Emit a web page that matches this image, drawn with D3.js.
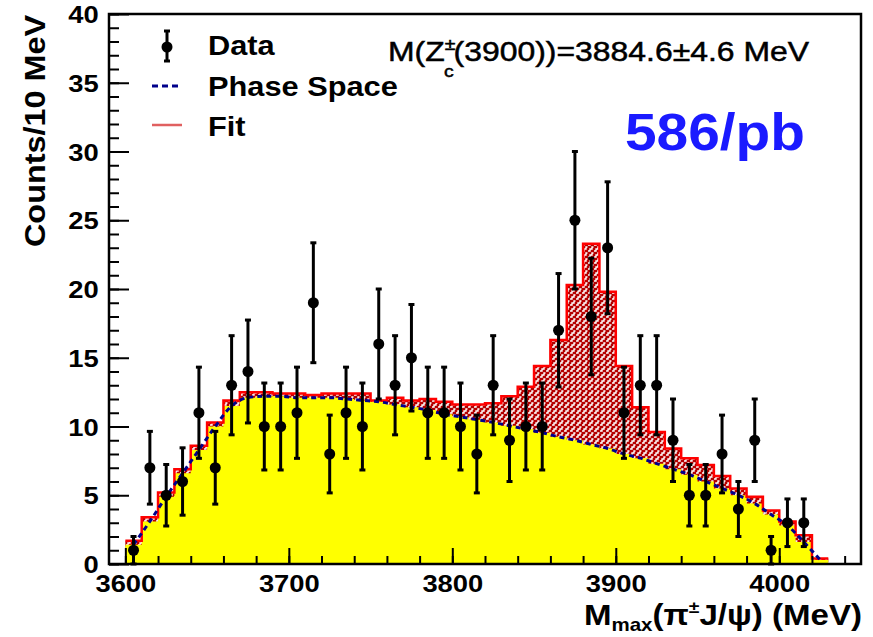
<!DOCTYPE html>
<html>
<head>
<meta charset="utf-8">
<script src="https://cdn.jsdelivr.net/npm/d3@7/dist/d3.min.js"></script>
<style>
  body { margin: 0; background: #fff; }
  text { font-family: "Liberation Sans", Arial, Helvetica, sans-serif; }
</style>
</head>
<body>
<svg id="chart" width="873" height="637"></svg>
<script>
// bin lower edges (10 MeV bins)
const binLow = [3600, 3610, 3620, 3630, 3640, 3650, 3660, 3670, 3680, 3690,
                3700, 3710, 3720, 3730, 3740, 3750, 3760, 3770, 3780, 3790,
                3800, 3810, 3820, 3830, 3840, 3850, 3860, 3870, 3880, 3890,
                3900, 3910, 3920, 3930, 3940, 3950, 3960, 3970, 3980, 3990,
                4000, 4010, 4020];
const binWidth = 10;

// phase space (yellow) per bin
const phaseSpace = [1.4, 3.1, 4.9, 6.6, 8.3, 10.0, 11.5, 12.1, 12.2, 12.2,
                    12.1, 12.1, 12.1, 12.0, 11.9, 11.8, 11.6, 11.4, 11.2, 10.9,
                    10.7, 10.5, 10.3, 10.05, 9.8, 9.55, 9.25, 9.0, 8.7, 8.4,
                    8.0, 7.7, 7.3, 6.9, 6.5, 6.0, 5.5, 5.0, 4.4, 3.6,
                    2.8, 1.6, 0.3];

// total fit (red) per bin
const fitTotal = [1.7, 3.4, 5.2, 6.9, 8.6, 10.3, 11.9, 12.5, 12.5, 12.4,
                  12.4, 12.3, 12.4, 12.4, 12.4, 11.9, 12.1, 11.9, 12.0, 11.8,
                  11.6, 11.6, 11.7, 12.2, 12.9, 14.4, 16.3, 20.3, 23.3, 19.8,
                  14.4, 11.4, 9.6, 8.4, 7.7, 7.2, 6.4, 5.5, 4.9, 3.9,
                  3.1, 2.1, 0.4];

// data points (bin centres, counts)
const dataMass = [3605, 3615, 3625, 3635, 3645, 3655, 3665, 3675, 3685, 3695,
                  3705, 3715, 3725, 3735, 3745, 3755, 3765, 3775, 3785, 3795,
                  3805, 3815, 3825, 3835, 3845, 3855, 3865, 3875, 3885, 3895,
                  3905, 3915, 3925, 3935, 3945, 3955, 3965, 3975, 3985, 3995,
                  4005, 4015];
const dataCounts = [1, 7, 5, 6, 11, 7, 13, 14, 10, 10,
                    11, 19, 8, 11, 10, 16, 13, 15, 11, 11,
                    10, 8, 13, 9, 10, 10, 17, 25, 18, 23,
                    11, 13, 13, 9, 5, 5, 8, 4, 9, 1,
                    3, 3];

const svg = d3.select("#chart");
const stretch = 1.14; // the picture's text is a bit wide

var x = d3.scaleLinear().domain([3590, 4050]).range([109, 861]);
var y = d3.scaleLinear().domain([0, 40]).range([564, 14]);

// hatch pattern for the signal part
var defs = svg.append("defs");
var pat = defs.append("pattern")
    .attr("id", "hatch")
    .attr("patternUnits", "userSpaceOnUse")
    .attr("width", 6).attr("height", 6);
pat.append("rect").attr("width", 6).attr("height", 6).attr("fill", "#b40000");
pat.append("path").attr("d", "M0,5 H2 V3 H4 V1 H5.5")
    .attr("fill", "none")
    .attr("stroke", "#fff")
    .attr("stroke-width", 1.4);

// turn bins into step points
function steps(vals) {
    return binLow.flatMap((lo, i) => [[lo, vals[i]], [lo + binWidth, vals[i]]]);
}

var stepArea = d3.area()
    .x(d => x(d[0]))
    .y0(y(0))
    .y1(d => y(d[1]));
var stepLine = d3.line()
    .x(d => x(d[0]))
    .y(d => y(d[1]));

// fit histogram, hatched
svg.append("path")
    .datum(steps(fitTotal))
    .attr("d", stepArea)
    .attr("fill", "url(#hatch)");

// phase space, yellow
svg.append("path")
    .datum(steps(phaseSpace))
    .attr("d", stepArea)
    .attr("fill", "#ffff00");

// fit outline
svg.append("path")
    .datum(steps(fitTotal))
    .attr("d", stepLine)
    .attr("fill", "none")
    .attr("stroke", "#ff0000")
    .attr("stroke-width", 2.5);

// phase space dashed curve
var psLine = d3.line()
    .x((d, i) => x(binLow[i] + binWidth / 2))
    .y(d => y(d))
    .curve(d3.curveMonotoneX);
svg.append("path")
    .datum(phaseSpace)
    .attr("d", psLine)
    .attr("fill", "none")
    .attr("stroke", "#00008b")
    .attr("stroke-width", 3)
    .attr("stroke-dasharray", "5,4");

// axes, ticks point inward
var xMinor = svg.append("g").attr("transform", "translate(0,564)")
    .call(d3.axisBottom(x).tickValues(x.ticks(25)).tickSize(-8).tickFormat(""));
var xMajor = svg.append("g").attr("transform", "translate(0,564)")
    .call(d3.axisBottom(x).tickValues(x.ticks(5)).tickSize(-16).tickPadding(11).tickFormat(d3.format("d")));
var yMinor = svg.append("g").attr("transform", "translate(109,0)")
    .call(d3.axisLeft(y).tickValues(y.ticks(40)).tickSize(-10).tickFormat(""));
var yMajor = svg.append("g").attr("transform", "translate(109,0)")
    .call(d3.axisLeft(y).tickValues(y.ticks(8)).tickSize(-20).tickPadding(9));

[xMinor, xMajor, yMinor, yMajor].forEach(function(g) {
    g.select(".domain").remove();
    g.selectAll(".tick line").attr("stroke", "#000").attr("stroke-width", 2);
    g.selectAll("text")
        .attr("font-family", "Liberation Sans, Arial, sans-serif")
        .attr("font-size", 24)
        .attr("font-weight", "bold")
        .attr("fill", "#000")
        .attr("transform", "scale(" + stretch + ",1)");
});
yMajor.selectAll("text").attr("dy", "0.36em");

// frame
svg.append("rect")
    .attr("x", 109).attr("y", 14)
    .attr("width", 752).attr("height", 550)
    .attr("fill", "none")
    .attr("stroke", "#000")
    .attr("stroke-width", 2.5);

// data points with sqrt(N) errors
var pts = svg.append("g");
dataMass.forEach(function(m, i) {
    var n = dataCounts[i], e = Math.sqrt(n);
    var cx = x(m);
    pts.append("line")
        .attr("x1", cx).attr("x2", cx)
        .attr("y1", y(n - e)).attr("y2", y(n + e))
        .attr("stroke", "#000").attr("stroke-width", 3);
    [n - e, n + e].forEach(function(v) {
        pts.append("line")
            .attr("x1", cx - 3).attr("x2", cx + 3)
            .attr("y1", y(v)).attr("y2", y(v))
            .attr("stroke", "#000").attr("stroke-width", 3);
    });
    pts.append("circle").attr("cx", cx).attr("cy", y(n)).attr("r", 5.5).attr("fill", "#000");
});

// helper for wide text
function wideText(px, py, size, weight) {
    return svg.append("text")
        .attr("transform", "translate(" + px + "," + py + ") scale(" + stretch + ",1)")
        .attr("font-size", size)
        .attr("font-weight", weight)
        .attr("fill", "#000");
}

// legend
var lg = svg.append("g");
lg.append("line").attr("x1", 167).attr("x2", 167).attr("y1", 30).attr("y2", 62)
    .attr("stroke", "#000").attr("stroke-width", 3);
lg.append("line").attr("x1", 164).attr("x2", 170).attr("y1", 31).attr("y2", 31)
    .attr("stroke", "#000").attr("stroke-width", 3);
lg.append("line").attr("x1", 164).attr("x2", 170).attr("y1", 61).attr("y2", 61)
    .attr("stroke", "#000").attr("stroke-width", 3);
lg.append("circle").attr("cx", 167).attr("cy", 47).attr("r", 5.5).attr("fill", "#000");
lg.append("line").attr("x1", 152).attr("x2", 182).attr("y1", 86).attr("y2", 86)
    .attr("stroke", "#00008b").attr("stroke-width", 3).attr("stroke-dasharray", "6,4");
lg.append("line").attr("x1", 152).attr("x2", 182).attr("y1", 125).attr("y2", 125)
    .attr("stroke", "#e06060").attr("stroke-width", 2.5);

wideText(208, 55, 27, "bold").text("Data");
wideText(208, 96, 27, "bold").text("Phase Space");
wideText(208, 136, 27, "bold").text("Fit");

// fitted mass
var mt = wideText(388, 61, 28, "normal")
    .attr("stroke", "#000").attr("stroke-width", 0.5);
mt.append("tspan").text("M(Z");
mt.append("tspan").attr("font-size", 17).attr("dy", -11).text("±");
mt.append("tspan").attr("font-size", 17).attr("dx", -10).attr("dy", 27).text("c");
mt.append("tspan").attr("dy", -16).text("(3900))=3884.6±4.6 MeV");

// luminosity tag
svg.append("text")
    .attr("x", 625).attr("y", 150)
    .attr("font-family", "Open Sans, sans-serif")
    .attr("font-size", 52)
    .attr("font-weight", "bold")
    .attr("fill", "#1a1aff")
    .attr("textLength", 180)
    .attr("lengthAdjust", "spacingAndGlyphs")
    .text("586/pb");

// axis titles
svg.append("text")
    .attr("transform", "translate(45,131) rotate(-90)")
    .attr("text-anchor", "middle")
    .attr("font-size", 30)
    .attr("font-weight", "bold")
    .attr("textLength", 232)
    .attr("lengthAdjust", "spacingAndGlyphs")
    .text("Counts/10 MeV");

var xt = wideText(862, 625, 29, "bold").attr("text-anchor", "end");
xt.append("tspan").text("M");
xt.append("tspan").attr("font-size", 18).attr("dy", 6).text("max");
xt.append("tspan").attr("dy", -6).text("(π");
xt.append("tspan").attr("font-size", 17).attr("dy", -12).text("±");
xt.append("tspan").attr("dy", 12).text("J/ψ) (MeV)");
</script>
</body>
</html>
